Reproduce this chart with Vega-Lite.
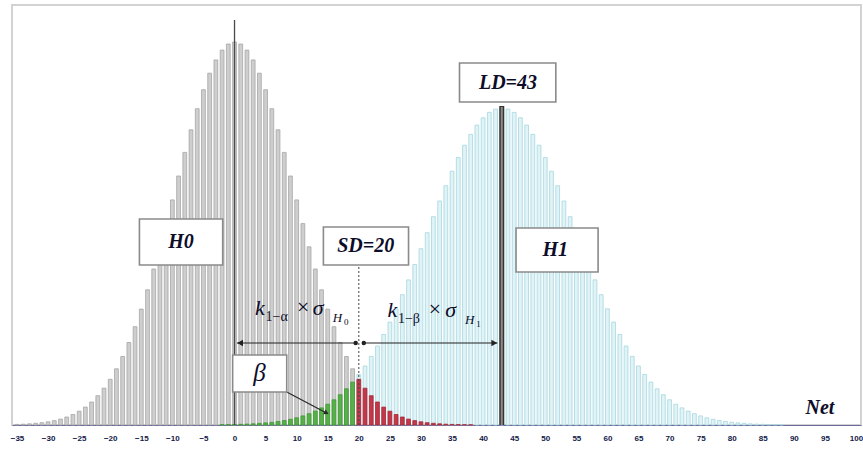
{
  "$schema": "https://vega.github.io/schema/vega-lite/v6.json",
  "width": 849,
  "height": 420,
  "autosize": {"type": "none"},
  "padding": {"left": 12, "top": 5, "right": 2, "bottom": 26},
  "background": "white",
  "config": {
    "view": {"stroke": "#d2d2d2", "strokeWidth": 2},
    "axis": {"grid": false}
  },
  "encoding": {
    "x": {
      "field": "x", "type": "quantitative",
      "scale": {"domain": [-35, 100], "nice": false, "zero": false},
      "axis": {
        "title": null,
        "values": [-35, -30, -25, -20, -15, -10, -5, 0, 5, 10, 15, 20, 25, 30, 35, 40, 45, 50, 55, 60, 65, 70, 75, 80, 85, 90, 95, 100],
        "ticks": false, "labelPadding": 9, "labelFont": "Liberation Sans", "labelFontWeight": "bold",
        "labelFontSize": 8, "labelColor": "#121a48", "labelFlush": false, "labelOverlap": false, "labelSeparation": 0, "labelBound": false,
        "domainColor": "#6c6c9c", "domainWidth": 1.2, "grid": false
      }
    }
  },
  "layer": [
    {
      "data": {"values": [
        {"x": -35, "h": 0.6, "s": "H0"}, {"x": -34, "h": 0.8, "s": "H0"}, {"x": -33, "h": 1.2, "s": "H0"}, {"x": -32, "h": 1.7, "s": "H0"}, {"x": -31, "h": 2.3, "s": "H0"},
        {"x": -30, "h": 3.2, "s": "H0"}, {"x": -29, "h": 4.4, "s": "H0"}, {"x": -28, "h": 5.9, "s": "H0"}, {"x": -27, "h": 8.0, "s": "H0"}, {"x": -26, "h": 10.5, "s": "H0"},
        {"x": -25, "h": 13.8, "s": "H0"}, {"x": -24, "h": 17.9, "s": "H0"}, {"x": -23, "h": 23.0, "s": "H0"}, {"x": -22, "h": 29.3, "s": "H0"}, {"x": -21, "h": 36.8, "s": "H0"},
        {"x": -20, "h": 45.7, "s": "H0"}, {"x": -19, "h": 56.2, "s": "H0"}, {"x": -18, "h": 68.5, "s": "H0"}, {"x": -17, "h": 82.5, "s": "H0"}, {"x": -16, "h": 98.3, "s": "H0"},
        {"x": -15, "h": 115.9, "s": "H0"}, {"x": -14, "h": 135.2, "s": "H0"}, {"x": -13, "h": 156.0, "s": "H0"}, {"x": -12, "h": 178.2, "s": "H0"}, {"x": -11, "h": 201.4, "s": "H0"},
        {"x": -10, "h": 225.1, "s": "H0"}, {"x": -9, "h": 249.0, "s": "H0"}, {"x": -8, "h": 272.6, "s": "H0"}, {"x": -7, "h": 295.2, "s": "H0"}, {"x": -6, "h": 316.3, "s": "H0"},
        {"x": -5, "h": 335.3, "s": "H0"}, {"x": -4, "h": 351.8, "s": "H0"}, {"x": -3, "h": 365.1, "s": "H0"}, {"x": -2, "h": 374.9, "s": "H0"}, {"x": -1, "h": 381.0, "s": "H0"},
        {"x": 0, "h": 383.0, "s": "H0"}, {"x": 1, "h": 381.0, "s": "H0"}, {"x": 2, "h": 374.9, "s": "H0"}, {"x": 3, "h": 365.1, "s": "H0"}, {"x": 4, "h": 351.8, "s": "H0"},
        {"x": 5, "h": 335.3, "s": "H0"}, {"x": 6, "h": 316.3, "s": "H0"}, {"x": 7, "h": 295.2, "s": "H0"}, {"x": 8, "h": 272.6, "s": "H0"}, {"x": 9, "h": 249.0, "s": "H0"},
        {"x": 10, "h": 225.1, "s": "H0"}, {"x": 11, "h": 201.4, "s": "H0"}, {"x": 12, "h": 178.2, "s": "H0"}, {"x": 13, "h": 156.0, "s": "H0"}, {"x": 14, "h": 135.2, "s": "H0"},
        {"x": 15, "h": 115.9, "s": "H0"}, {"x": 16, "h": 98.3, "s": "H0"}, {"x": 17, "h": 82.5, "s": "H0"}, {"x": 18, "h": 68.5, "s": "H0"}, {"x": 19, "h": 56.2, "s": "H0"},
        {"x": 20, "h": 50.5, "s": "H1"}, {"x": 21, "h": 59.0, "s": "H1"}, {"x": 22, "h": 68.6, "s": "H1"}, {"x": 23, "h": 79.0, "s": "H1"}, {"x": 24, "h": 90.5, "s": "H1"},
        {"x": 25, "h": 102.9, "s": "H1"}, {"x": 26, "h": 116.2, "s": "H1"}, {"x": 27, "h": 130.3, "s": "H1"}, {"x": 28, "h": 145.1, "s": "H1"}, {"x": 29, "h": 160.5, "s": "H1"},
        {"x": 30, "h": 176.3, "s": "H1"}, {"x": 31, "h": 192.3, "s": "H1"}, {"x": 32, "h": 208.3, "s": "H1"}, {"x": 33, "h": 224.0, "s": "H1"}, {"x": 34, "h": 239.3, "s": "H1"},
        {"x": 35, "h": 253.8, "s": "H1"}, {"x": 36, "h": 267.4, "s": "H1"}, {"x": 37, "h": 279.8, "s": "H1"}, {"x": 38, "h": 290.6, "s": "H1"}, {"x": 39, "h": 299.9, "s": "H1"},
        {"x": 40, "h": 307.2, "s": "H1"}, {"x": 41, "h": 312.6, "s": "H1"}, {"x": 42, "h": 315.9, "s": "H1"}, {"x": 43, "h": 317.0, "s": "H1"}, {"x": 44, "h": 315.9, "s": "H1"},
        {"x": 45, "h": 312.6, "s": "H1"}, {"x": 46, "h": 307.2, "s": "H1"}, {"x": 47, "h": 299.9, "s": "H1"}, {"x": 48, "h": 290.6, "s": "H1"}, {"x": 49, "h": 279.8, "s": "H1"},
        {"x": 50, "h": 267.4, "s": "H1"}, {"x": 51, "h": 253.8, "s": "H1"}, {"x": 52, "h": 239.3, "s": "H1"}, {"x": 53, "h": 224.0, "s": "H1"}, {"x": 54, "h": 208.3, "s": "H1"},
        {"x": 55, "h": 192.3, "s": "H1"}, {"x": 56, "h": 176.3, "s": "H1"}, {"x": 57, "h": 160.5, "s": "H1"}, {"x": 58, "h": 145.1, "s": "H1"}, {"x": 59, "h": 130.3, "s": "H1"},
        {"x": 60, "h": 116.2, "s": "H1"}, {"x": 61, "h": 102.9, "s": "H1"}, {"x": 62, "h": 90.5, "s": "H1"}, {"x": 63, "h": 79.0, "s": "H1"}, {"x": 64, "h": 68.6, "s": "H1"},
        {"x": 65, "h": 59.0, "s": "H1"}, {"x": 66, "h": 50.5, "s": "H1"}, {"x": 67, "h": 42.9, "s": "H1"}, {"x": 68, "h": 36.2, "s": "H1"}, {"x": 69, "h": 30.3, "s": "H1"},
        {"x": 70, "h": 25.2, "s": "H1"}, {"x": 71, "h": 20.8, "s": "H1"}, {"x": 72, "h": 17.1, "s": "H1"}, {"x": 73, "h": 13.9, "s": "H1"}, {"x": 74, "h": 11.3, "s": "H1"},
        {"x": 75, "h": 9.1, "s": "H1"}, {"x": 76, "h": 7.2, "s": "H1"}, {"x": 77, "h": 5.7, "s": "H1"}, {"x": 78, "h": 4.5, "s": "H1"}, {"x": 79, "h": 3.5, "s": "H1"},
        {"x": 80, "h": 2.7, "s": "H1"}, {"x": 81, "h": 2.1, "s": "H1"}, {"x": 82, "h": 1.6, "s": "H1"}, {"x": 83, "h": 1.2, "s": "H1"}, {"x": 84, "h": 0.9, "s": "H1"},
        {"x": 85, "h": 0.7, "s": "H1"}, {"x": 86, "h": 0.5, "s": "H1"}, {"x": 87, "h": 0.4, "s": "H1"}, {"x": 88, "h": 0.3, "s": "H1"},
        {"x": -2, "h": 0.3, "s": "beta"}, {"x": -1, "h": 0.4, "s": "beta"}, {"x": 0, "h": 0.5, "s": "beta"}, {"x": 1, "h": 0.7, "s": "beta"}, {"x": 2, "h": 0.9, "s": "beta"},
        {"x": 3, "h": 1.2, "s": "beta"}, {"x": 4, "h": 1.6, "s": "beta"}, {"x": 5, "h": 2.1, "s": "beta"}, {"x": 6, "h": 2.7, "s": "beta"}, {"x": 7, "h": 3.5, "s": "beta"},
        {"x": 8, "h": 4.5, "s": "beta"}, {"x": 9, "h": 5.7, "s": "beta"}, {"x": 10, "h": 7.2, "s": "beta"}, {"x": 11, "h": 9.1, "s": "beta"}, {"x": 12, "h": 11.3, "s": "beta"},
        {"x": 13, "h": 13.9, "s": "beta"}, {"x": 14, "h": 17.1, "s": "beta"}, {"x": 15, "h": 20.8, "s": "beta"}, {"x": 16, "h": 25.2, "s": "beta"}, {"x": 17, "h": 30.3, "s": "beta"},
        {"x": 18, "h": 36.2, "s": "beta"}, {"x": 19, "h": 42.9, "s": "beta"},
        {"x": 20, "h": 45.7, "s": "alpha"}, {"x": 21, "h": 36.8, "s": "alpha"}, {"x": 22, "h": 29.3, "s": "alpha"}, {"x": 23, "h": 23.0, "s": "alpha"}, {"x": 24, "h": 17.9, "s": "alpha"},
        {"x": 25, "h": 13.8, "s": "alpha"}, {"x": 26, "h": 10.5, "s": "alpha"}, {"x": 27, "h": 8.0, "s": "alpha"}, {"x": 28, "h": 5.9, "s": "alpha"}, {"x": 29, "h": 4.4, "s": "alpha"},
        {"x": 30, "h": 3.2, "s": "alpha"}, {"x": 31, "h": 2.3, "s": "alpha"}, {"x": 32, "h": 1.7, "s": "alpha"}, {"x": 33, "h": 1.2, "s": "alpha"}, {"x": 34, "h": 0.8, "s": "alpha"},
        {"x": 35, "h": 0.6, "s": "alpha"}, {"x": 36, "h": 0.4, "s": "alpha"}, {"x": 37, "h": 0.3, "s": "alpha"}, {"x": 38, "h": 0.2, "s": "alpha"}
      ]},
      "mark": {"type": "bar", "size": 3.8, "strokeWidth": 0.8},
      "encoding": {
        "y": {
          "field": "h", "type": "quantitative", "stack": null,
          "scale": {"domain": [0, 420], "nice": false},
          "axis": null
        },
        "fill": {
          "field": "s", "type": "nominal",
          "scale": {"domain": ["H0", "H1", "beta", "alpha"], "range": ["#cecece", "#e0f3f6", "#58b04a", "#c43848"]},
          "legend": null
        },
        "stroke": {
          "field": "s", "type": "nominal",
          "scale": {"domain": ["H0", "H1", "beta", "alpha"], "range": ["#a6a6a6", "#a6d7e0", "#3e9933", "#a42838"]},
          "legend": null
        }
      }
    },
    {
      "data": {"values": [{"x": 0, "y": 0, "y2": 405}]},
      "mark": {"type": "rule", "color": "#4a4a4a", "strokeWidth": 1.3},
      "encoding": {"y": {"field": "y", "type": "quantitative"}, "y2": {"field": "y2"}}
    },
    {
      "data": {"values": [{"x": 20, "y": 0, "y2": 160}]},
      "mark": {"type": "rule", "color": "#444444", "strokeWidth": 1, "strokeDash": [2, 2]},
      "encoding": {"y": {"field": "y", "type": "quantitative"}, "y2": {"field": "y2"}}
    },
    {
      "data": {"values": [{"x": 43, "y": 0, "y2": 319}]},
      "mark": {"type": "rule", "color": "#353535", "strokeWidth": 5},
      "encoding": {"y": {"field": "y", "type": "quantitative"}, "y2": {"field": "y2"}}
    },
    {
      "data": {"values": [{"x": 43, "y": 0, "y2": 318}]},
      "mark": {"type": "rule", "color": "#8c8c8c", "strokeWidth": 2},
      "encoding": {"y": {"field": "y", "type": "quantitative"}, "y2": {"field": "y2"}}
    },
    {
      "data": {"values": [{"x": 0.4, "x2": 19.6, "y": 82}, {"x": 20.7, "x2": 42.3, "y": 82}]},
      "mark": {"type": "rule", "color": "#222222", "strokeWidth": 1.2},
      "encoding": {"x2": {"field": "x2"}, "y": {"field": "y", "type": "quantitative"}}
    },
    {
      "data": {"values": [{"x": 0.9, "y": 82, "shape": "triangle-left"}, {"x": 41.8, "y": 82, "shape": "triangle-right"}]},
      "mark": {"type": "point", "filled": true, "size": 45, "color": "#222222", "opacity": 1},
      "encoding": {"y": {"field": "y", "type": "quantitative"}, "shape": {"field": "shape", "type": "nominal", "scale": null}}
    },
    {
      "data": {"values": [{"x": 19.5, "y": 82}, {"x": 20.8, "y": 82}]},
      "mark": {"type": "circle", "size": 20, "color": "#222222", "opacity": 1},
      "encoding": {"y": {"field": "y", "type": "quantitative"}}
    },
    {
      "data": {"values": [{"x": 8.4, "y": 33, "x2": 14.8, "y2": 12}]},
      "mark": {"type": "rule", "color": "#2a2a2a", "strokeWidth": 1.2},
      "encoding": {"x2": {"field": "x2"}, "y": {"field": "y", "type": "quantitative"}, "y2": {"field": "y2"}}
    },
    {
      "data": {"values": [{"x": 14.8, "y": 12}]},
      "mark": {"type": "point", "shape": "triangle-right", "filled": true, "size": 30, "color": "#2a2a2a", "angle": 27, "opacity": 1},
      "encoding": {"y": {"field": "y", "type": "quantitative"}}
    },
    {
      "data": {"values": [
        {"x": -15.3, "x2": -1.9, "y": 160, "y2": 206},
        {"x": 14.3, "x2": 28.0, "y": 160, "y2": 198},
        {"x": 36.2, "x2": 51.7, "y": 323, "y2": 362},
        {"x": 45.3, "x2": 58.5, "y": 153, "y2": 197},
        {"x": -0.3, "x2": 8.4, "y": 33, "y2": 70}
      ]},
      "mark": {"type": "rect", "fill": "white", "stroke": "#8a8a8a", "strokeWidth": 1.6},
      "encoding": {"x2": {"field": "x2"}, "y": {"field": "y", "type": "quantitative"}, "y2": {"field": "y2"}}
    },
    {
      "data": {"values": [
        {"x": -8.6, "y": 183, "t": "H0"},
        {"x": 21.1, "y": 179, "t": "SD=20"},
        {"x": 44.0, "y": 342, "t": "LD=43"},
        {"x": 51.6, "y": 175, "t": "H1"},
        {"x": 94.2, "y": 17, "t": "Net"}
      ]},
      "mark": {"type": "text", "font": "Liberation Serif", "fontStyle": "italic", "fontWeight": "bold", "fontSize": 20, "color": "#0d0d2a", "align": "center", "baseline": "middle"},
      "encoding": {"y": {"field": "y", "type": "quantitative"}, "text": {"field": "t"}}
    },
    {
      "data": {"values": [{"x": 4.0, "y": 52, "t": "β"}]},
      "mark": {"type": "text", "font": "Liberation Serif", "fontStyle": "italic", "fontSize": 25, "color": "#0d0d2a", "align": "center", "baseline": "middle"},
      "encoding": {"y": {"field": "y", "type": "quantitative"}, "text": {"field": "t"}}
    },
    {
      "data": {"values": [
        {"x": 3.3, "y": 110, "t": "k"},
        {"x": 9.8, "y": 111, "t": "×"},
        {"x": 12.6, "y": 110, "t": "σ"},
        {"x": 24.6, "y": 108, "t": "k"},
        {"x": 31.0, "y": 109, "t": "×"},
        {"x": 33.9, "y": 108, "t": "σ"}
      ]},
      "mark": {"type": "text", "font": "Liberation Serif", "fontStyle": "italic", "fontSize": 22, "color": "#0d0d2a", "align": "left", "baseline": "alphabetic"},
      "encoding": {"y": {"field": "y", "type": "quantitative"}, "text": {"field": "t"}}
    },
    {
      "data": {"values": [
        {"x": 5.0, "y": 104, "t": "1−α"},
        {"x": 26.3, "y": 102, "t": "1−β"}
      ]},
      "mark": {"type": "text", "font": "Liberation Serif", "fontSize": 14, "color": "#0d0d2a", "align": "left", "baseline": "alphabetic"},
      "encoding": {"y": {"field": "y", "type": "quantitative"}, "text": {"field": "t"}}
    },
    {
      "data": {"values": [
        {"x": 15.8, "y": 103, "t": "H"},
        {"x": 37.1, "y": 101, "t": "H"}
      ]},
      "mark": {"type": "text", "font": "Liberation Serif", "fontStyle": "italic", "fontSize": 13, "color": "#0d0d2a", "align": "left", "baseline": "alphabetic"},
      "encoding": {"y": {"field": "y", "type": "quantitative"}, "text": {"field": "t"}}
    },
    {
      "data": {"values": [
        {"x": 17.6, "y": 100, "t": "0"},
        {"x": 38.9, "y": 98, "t": "1"}
      ]},
      "mark": {"type": "text", "font": "Liberation Serif", "fontSize": 9, "color": "#0d0d2a", "align": "left", "baseline": "alphabetic"},
      "encoding": {"y": {"field": "y", "type": "quantitative"}, "text": {"field": "t"}}
    }
  ]
}
